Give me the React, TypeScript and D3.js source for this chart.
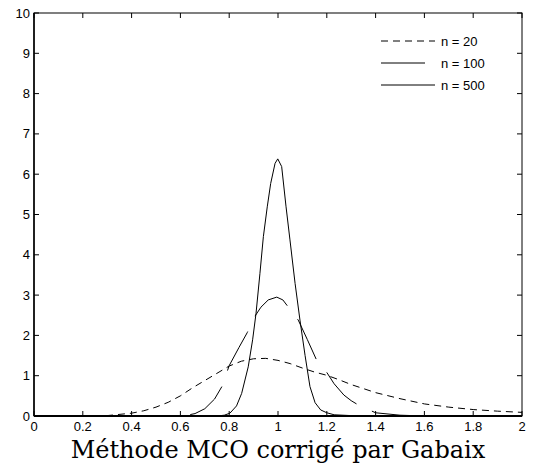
import React from "react";
import * as d3 from "d3";

const xTicks = [0, 0.2, 0.4, 0.6, 0.8, 1, 1.2, 1.4, 1.6, 1.8, 2];
const xTickLabels = ["0", "0.2", "0.4", "0.6", "0.8", "1", "1.2", "1.4", "1.6", "1.8", "2"];
const yTicks = [0, 1, 2, 3, 4, 5, 6, 7, 8, 9, 10];

const seriesNames = ["n = 20", "n = 100", "n = 500"];

const n20X = [0, 0.1, 0.2, 0.3, 0.4, 0.45, 0.5, 0.55, 0.6, 0.65, 0.7, 0.75, 0.8, 0.85, 0.9, 0.95, 1.0, 1.05, 1.1, 1.15, 1.2, 1.25, 1.3, 1.35, 1.4, 1.5, 1.6, 1.7, 1.8, 1.9, 2.0];
const n20Y = [0, 0, 0, 0.01, 0.07, 0.13, 0.22, 0.34, 0.5, 0.7, 0.88, 1.06, 1.24, 1.36, 1.42, 1.43, 1.38, 1.3, 1.19, 1.09, 1.01, 0.9, 0.78, 0.68, 0.58, 0.43, 0.3, 0.22, 0.16, 0.12, 0.09];

const n100X = [0, 0.6, 0.62, 0.66, 0.7, 0.74, 0.77, 0.8, 0.84, 0.874, 0.906, 0.93, 0.96, 0.995, 1.02, 1.04, 1.06, 1.083, 1.12, 1.158, 1.2, 1.23, 1.27, 1.3, 1.33, 1.4, 1.5, 1.6, 2.0];
const n100Y = [0, 0, 0.01, 0.06, 0.18, 0.42, 0.73, 1.25, 1.7, 2.07, 2.48, 2.7, 2.88, 2.95, 2.88, 2.72, 2.55, 2.38, 1.9, 1.39, 1.08, 0.8, 0.52, 0.38, 0.27, 0.08, 0.02, 0, 0];

const n500X = [0, 0.75, 0.78, 0.803, 0.83, 0.851, 0.878, 0.896, 0.91, 0.926, 0.94, 0.956, 0.97, 0.988, 0.999, 1.015, 1.033, 1.049, 1.07, 1.09, 1.111, 1.131, 1.152, 1.175, 1.2, 1.23, 1.3, 2.0];
const n500Y = [0, 0, 0.02, 0.07, 0.25, 0.56, 1.22, 1.89, 2.55, 3.54, 4.45, 5.19, 5.77, 6.27, 6.38, 6.19, 5.19, 4.37, 3.29, 2.38, 1.5, 0.73, 0.33, 0.15, 0.08, 0.03, 0.01, 0];

const W = 533;
const H = 475;
const M = { left: 34, right: 522, top: 13, bottom: 416 };

const x = d3.scaleLinear().domain([0, 2]).range([M.left, M.right]);
const y = d3.scaleLinear().domain([0, 10]).range([M.bottom, M.top]);

const DASH20 = [7, 5];
const DASH100 = [44, 17];

function toPts(xs: number[], ys: number[]): [number, number][] {
  return xs.map((v, i) => [v, ys[i]] as [number, number]);
}

const line = d3
  .line<[number, number]>()
  .x((d) => x(d[0]))
  .y((d) => y(d[1]));

function lengthUpTo(pts: [number, number][], xv: number) {
  let L = 0;
  for (let i = 1; i < pts.length; i++) {
    if (pts[i - 1][0] >= xv) break;
    const dx = x(pts[i][0]) - x(pts[i - 1][0]);
    const dy = y(pts[i][1]) - y(pts[i - 1][1]);
    L += Math.hypot(dx, dy);
  }
  return L;
}

export default function App() {
  const p20 = toPts(n20X, n20Y);
  const p100 = toPts(n100X, n100Y);
  const p500 = toPts(n500X, n500Y);
  const period = DASH100[0] + DASH100[1];
  const L = lengthUpTo(p100, 0.77);
  const off100 = (((DASH100[0] - L) % period) + period) % period;

  const font = "'Liberation Sans', Arial, Helvetica, sans-serif";
  const fs = 13;
  const tick = 5;
  const legendY = [41, 63, 85];
  const legendDash = [DASH20.join(" "), DASH100.join(" "), "none"];

  return (
    <div style={{ position: "absolute", left: 0, top: 0 }}>
      <svg width={W} height={H} style={{ display: "block", background: "#fff" }}>
        <rect x={0} y={0} width={W} height={H} fill="#fff" />
        {/* curves */}
        <path d={line(p20) || ""} fill="none" stroke="#000" strokeWidth={1} strokeDasharray={DASH20.join(" ")} />
        <path
          d={line(p100) || ""}
          fill="none"
          stroke="#000"
          strokeWidth={1}
          strokeDasharray={DASH100.join(" ")}
          strokeDashoffset={off100}
        />
        <path d={line(p500) || ""} fill="none" stroke="#000" strokeWidth={1} />

        {/* frame */}
        <rect
          x={M.left}
          y={M.top}
          width={M.right - M.left}
          height={M.bottom - M.top}
          fill="none"
          stroke="#000"
          strokeWidth={1}
        />
        <line x1={M.left} x2={M.right} y1={M.bottom} y2={M.bottom} stroke="#000" strokeWidth={2} />
        <line x1={M.left} x2={M.left} y1={M.top} y2={M.bottom} stroke="#000" strokeWidth={1.5} />

        {/* x ticks */}
        {xTicks.map((t, i) => (
          <g key={"xt" + i}>
            <line x1={x(t)} x2={x(t)} y1={M.bottom} y2={M.bottom - tick} stroke="#000" />
            <line x1={x(t)} x2={x(t)} y1={M.top} y2={M.top + tick} stroke="#000" />
            <text x={x(t)} y={M.bottom + 15} fontSize={fs} fontFamily={font} textAnchor="middle">
              {xTickLabels[i]}
            </text>
          </g>
        ))}
        {/* y ticks */}
        {yTicks.map((t, i) => (
          <g key={"yt" + i}>
            <line x1={M.left} x2={M.left + tick} y1={y(t)} y2={y(t)} stroke="#000" />
            <line x1={M.right} x2={M.right - tick} y1={y(t)} y2={y(t)} stroke="#000" />
            <text x={M.left - 4} y={y(t) + 4.5} fontSize={fs} fontFamily={font} textAnchor="end">
              {String(t)}
            </text>
          </g>
        ))}

        {/* legend */}
        {seriesNames.map((name, i) => (
          <g key={"lg" + i}>
            <line
              x1={381}
              x2={435}
              y1={legendY[i]}
              y2={legendY[i]}
              stroke="#000"
              strokeWidth={1}
              strokeDasharray={legendDash[i]}
            />
            <text x={441} y={legendY[i] + 4.5} fontSize={fs} fontFamily={font}>
              {name}
            </text>
          </g>
        ))}

        {/* title */}
        <text
          x={x(1)}
          y={458}
          fontSize={24}
          fontFamily="'DejaVu Serif', 'Liberation Serif', serif"
          textAnchor="middle"
        >
          Méthode MCO corrigé par Gabaix
        </text>
      </svg>
    </div>
  );
}
